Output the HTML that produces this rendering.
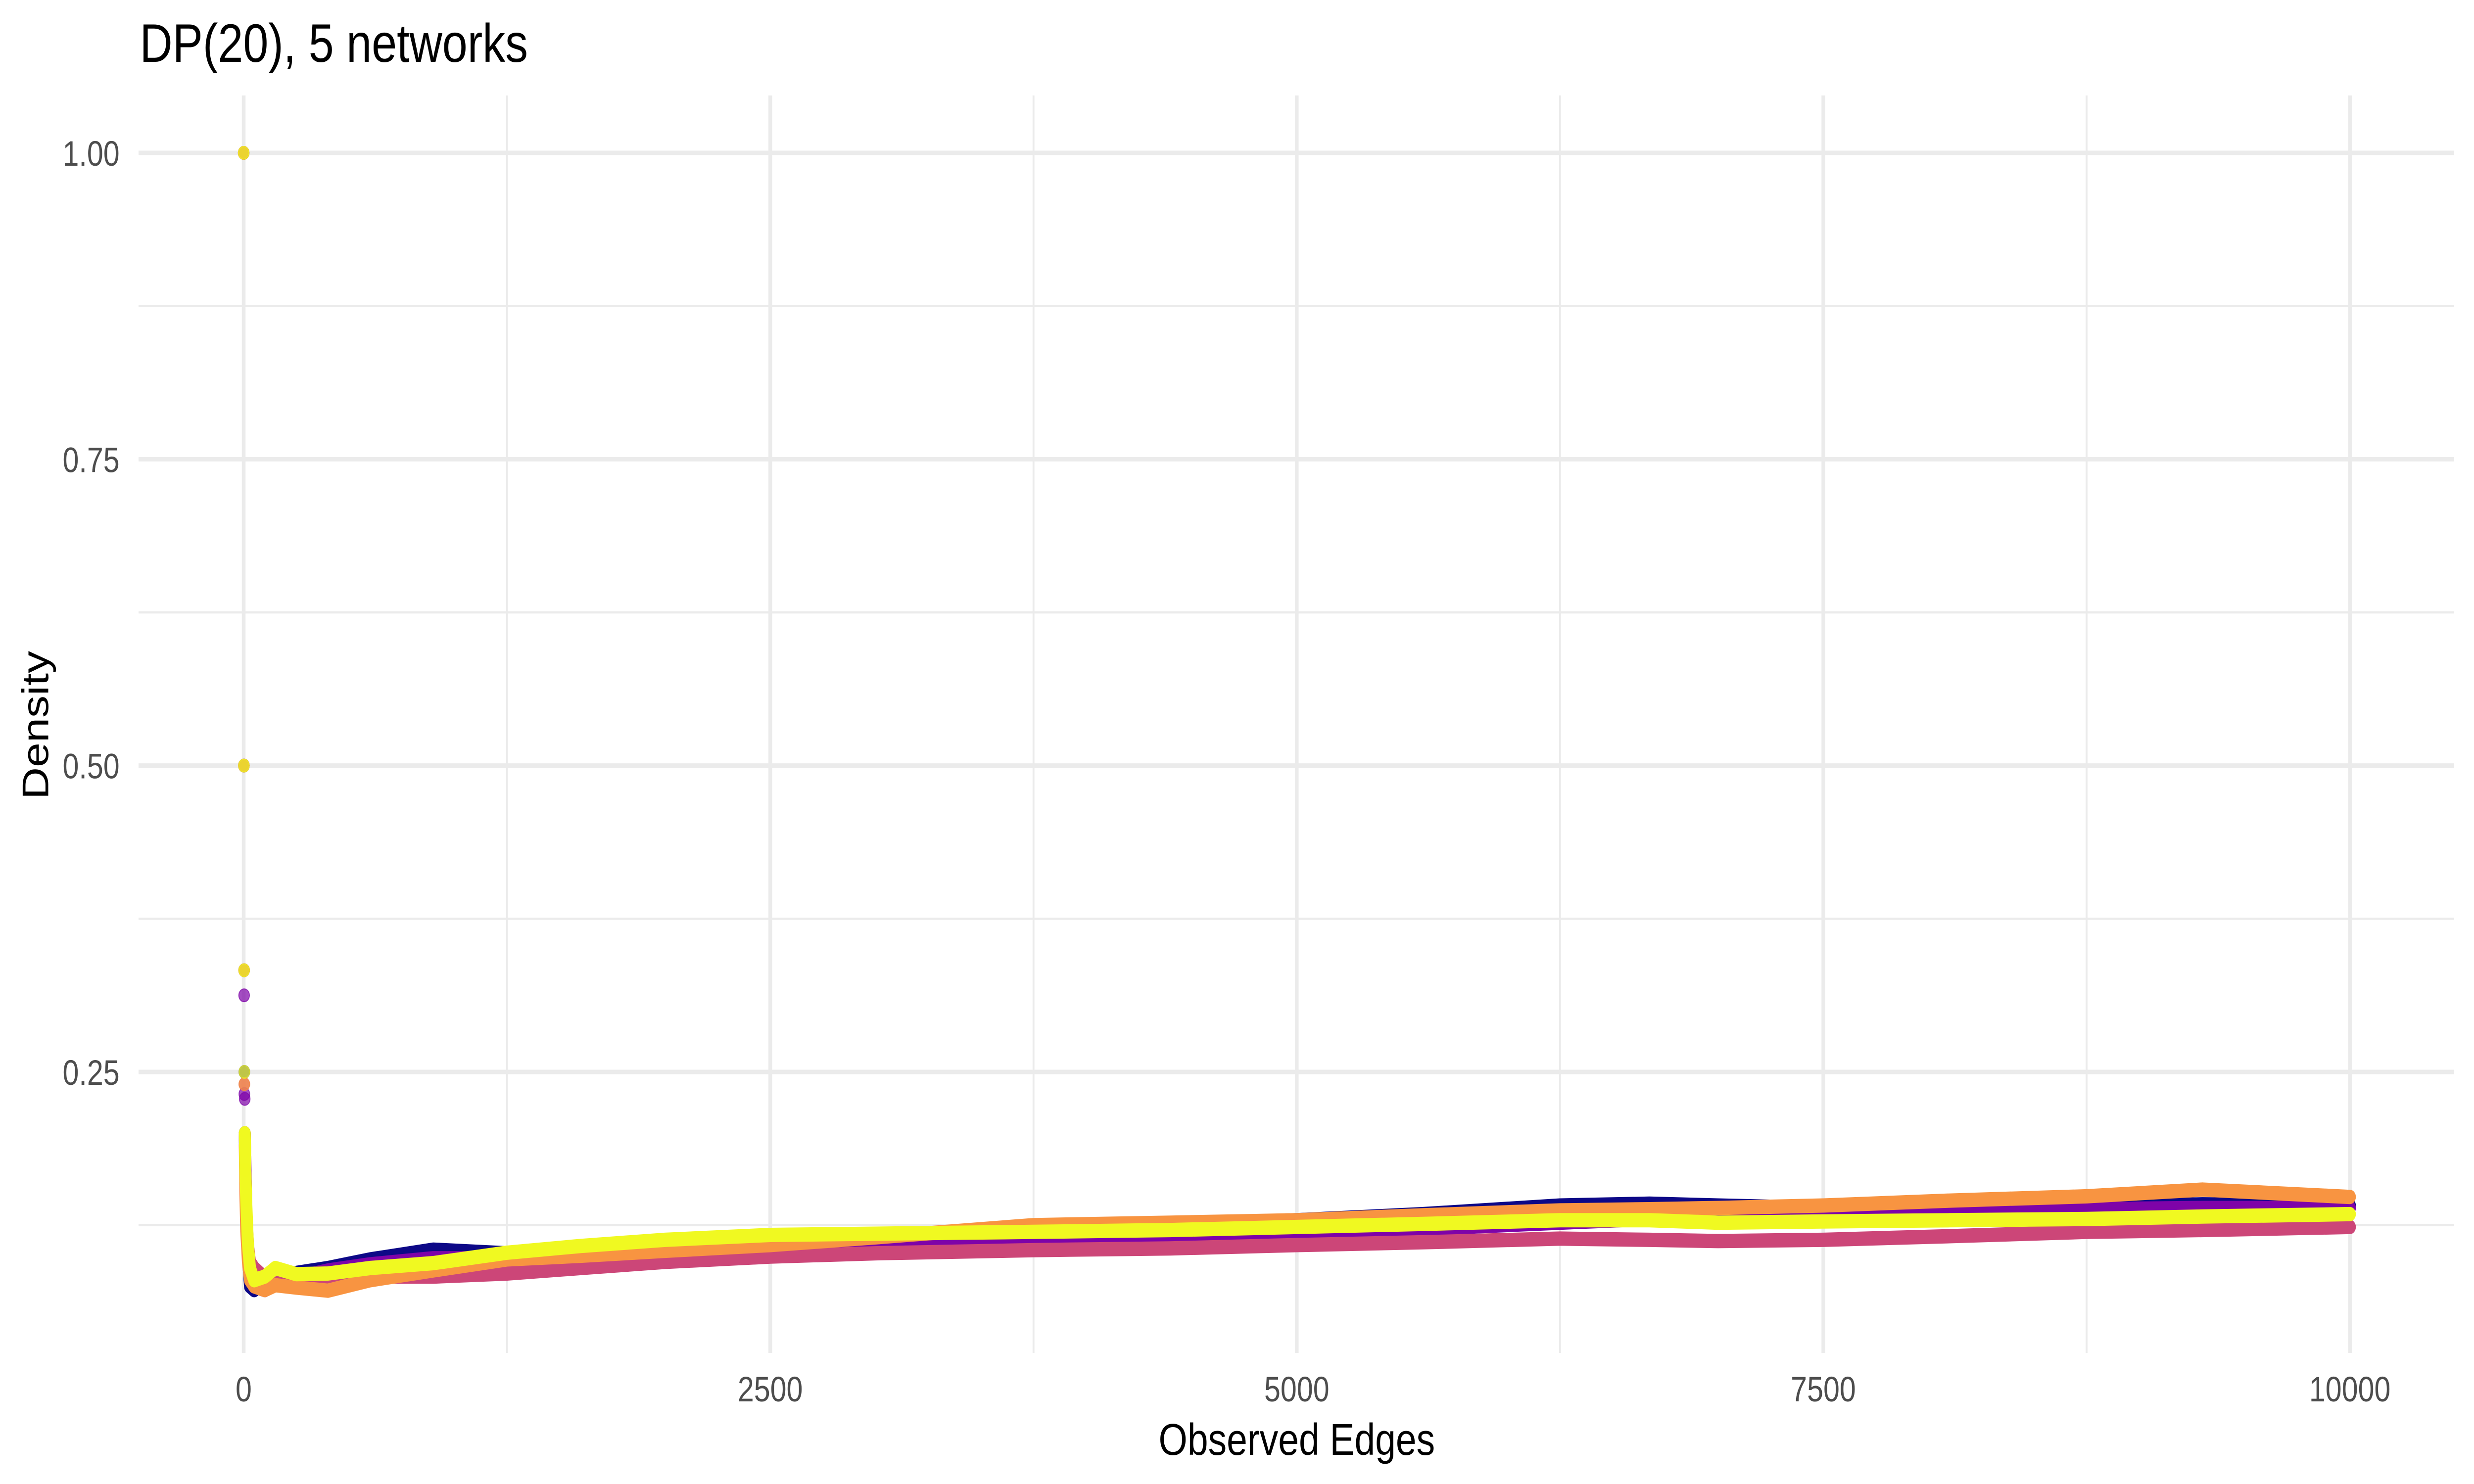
<!DOCTYPE html>
<html><head><meta charset="utf-8"><style>
html,body{margin:0;padding:0;background:#fff;overflow:hidden;width:100vw;height:100vh;}
svg{display:block;width:100vw;height:100vh;font-family:"Liberation Sans",Arial,sans-serif;}
</style></head><body>
<svg id="chart" viewBox="0 0 6000 3000" preserveAspectRatio="none" xmlns="http://www.w3.org/2000/svg">
<rect width="6000" height="3000" fill="#fff"/>
<g id="grid"></g>
<g id="series"></g>
<g id="axes"></g>
<text x="339" y="125" font-size="110" fill="#000">DP(20), 5 networks</text>
<text x="3145" y="2941" font-size="90" fill="#000" text-anchor="middle">Observed Edges</text>
<text transform="translate(117,1466) rotate(-90)" font-size="90" fill="#000" text-anchor="middle">Density</text>
</svg>
<script>
const xTicks = [0, 2500, 5000, 7500, 10000];
const xTickLabels = ["0", "2500", "5000", "7500", "10000"];
const xMinor = [1250, 3750, 6250, 8750];
const yTicks = [0.25, 0.5, 0.75, 1.0];
const yTickLabels = ["0.25", "0.50", "0.75", "1.00"];
const yMinor = [0.125, 0.375, 0.625, 0.875];
const seriesNames = ["network-1", "network-2", "network-3", "network-4", "network-5"];
const seriesColors = ["#0D0887", "#7E03A8", "#CC4678", "#F89441", "#F0F921"];
const edges = [0,1,2,3,5,8,12,20,30,50,100,150,250,400,600,900,1250,1600,2000,2500,3000,3750,4400,5000,5600,6250,6674,7000,7500,8100,8750,9300,10000];
const densityNet1 = [1,0.5,0.333,0.25,0.2,0.16,0.13,0.1,0.075,0.072,0.08,0.084,0.086,0.09,0.097,0.105,0.102,0.104,0.107,0.11,0.115,0.1235,0.126,0.129,0.134,0.141,0.1425,0.141,0.139,0.139,0.14,0.142,0.141];
const densityNet2 = [1,0.5,0.3125,0.232,0.228,0.18,0.14,0.105,0.085,0.075,0.072,0.078,0.082,0.088,0.093,0.098,0.098,0.1,0.102,0.105,0.109,0.1126,0.116,0.118,0.122,0.127,0.13,0.132,0.134,0.136,0.138,0.139,0.139];
const densityNet3 = [1,0.5,0.333,0.24,0.2,0.17,0.14,0.11,0.095,0.09,0.082,0.078,0.08,0.082,0.083,0.083,0.0855,0.09,0.095,0.0993,0.102,0.1046,0.106,0.1087,0.111,0.114,0.113,0.112,0.113,0.116,0.1195,0.121,0.1235];
const densityNet4 = [1,0.5,0.333,0.24,0.19,0.15,0.12,0.095,0.08,0.075,0.072,0.076,0.074,0.0715,0.08,0.088,0.097,0.1,0.104,0.1087,0.115,0.125,0.127,0.129,0.133,0.137,0.138,0.139,0.141,0.145,0.1485,0.154,0.148];
const densityNet5 = [1,0.5,0.333,0.25,0.2,0.17,0.145,0.11,0.09,0.08,0.083,0.09,0.085,0.0855,0.09,0.094,0.1025,0.108,0.113,0.117,0.118,0.1195,0.121,0.1235,0.126,0.129,0.129,0.127,0.128,0.129,0.13,0.132,0.134];
const allSeries = [densityNet1, densityNet2, densityNet3, densityNet4, densityNet5];

const NS = "http://www.w3.org/2000/svg";
const PL = 336, PR = 5952, PT = 193, PB = 2735;
function xScale(v){ return 591 + v * (5699 - 591) / 10000; }
function yScale(v){ return 2167 - (v - 0.25) * (2167 - 309) / 0.75; }
function mk(tag, attrs, parent){ const e = document.createElementNS(NS, tag); for (const k in attrs) e.setAttribute(k, attrs[k]); parent.appendChild(e); return e; }

const grid = document.getElementById('grid');
yMinor.forEach(v => { const l = mk('line', {x1:PL, x2:PR, y1:yScale(v), y2:yScale(v), stroke:'#ebebeb', 'stroke-width':4.5}, grid);
  
   });
xMinor.forEach(v => { const l = mk('line', {x1:xScale(v), x2:xScale(v), y1:PT, y2:PB, stroke:'#ebebeb', 'stroke-width':4.5}, grid);
  
   });
yTicks.forEach(v => { const l = mk('line', {x1:PL, x2:PR, y1:yScale(v), y2:yScale(v), stroke:'#ebebeb', 'stroke-width':9}, grid);
  
   });
xTicks.forEach(v => { const l = mk('line', {x1:xScale(v), x2:xScale(v), y1:PT, y2:PB, stroke:'#ebebeb', 'stroke-width':9}, grid);
  
   });

const axes = document.getElementById('axes');
xTicks.forEach((v, i) => { const t = mk('text', {x:xScale(v), y:2833, 'font-size':71, fill:'#4d4d4d', 'text-anchor':'middle'}, axes);
  t.textContent = xTickLabels[i];
  
   });
yTicks.forEach((v, i) => { const t = mk('text', {x:290, y:yScale(v) + 26, 'font-size':71, fill:'#4d4d4d', 'text-anchor':'end'}, axes);
  t.textContent = yTickLabels[i];
  
   });

const layer = document.getElementById('series');
allSeries.forEach((vals, s) => {
  const g = mk('g', {}, layer);
  
  
  const pts = [];
  edges.forEach((x, i) => { if (vals[i] < 0.22) pts.push(xScale(x).toFixed(1) + ',' + yScale(vals[i]).toFixed(1)); });
  const pl = mk('polyline', {points: pts.join(' '), fill:'none', stroke:seriesColors[s], 'stroke-width':29, 'stroke-linejoin':'round', 'stroke-linecap':'round'}, g);
  
  
  edges.forEach((x, i) => { if (x <= 20) {
    const c = mk('circle', {cx:xScale(x), cy:yScale(vals[i]), r:13, fill:seriesColors[s], 'fill-opacity':0.7, stroke:seriesColors[s], 'stroke-opacity':0.7, 'stroke-width':2}, g);
    
     } });
});
</script>
</body></html>
